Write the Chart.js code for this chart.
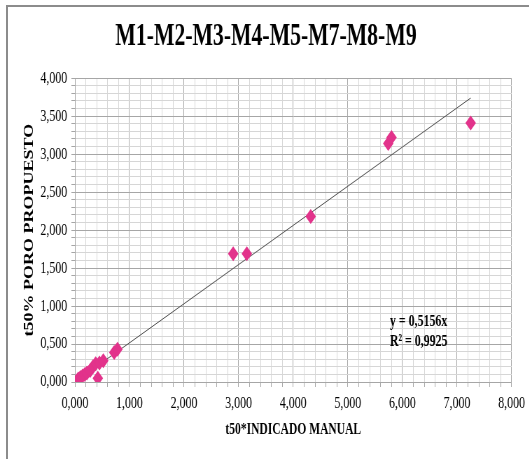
<!DOCTYPE html>
<html>
<head>
<meta charset="utf-8">
<script src="https://cdn.jsdelivr.net/npm/chart.js@4/dist/chart.umd.min.js"></script>
<style>
  html, body { margin: 0; padding: 0; background: #fff; }
  body { width: 529px; height: 459px; position: relative; overflow: hidden; }
  #frame { position: absolute; left: 6px; top: 5px; width: 560px; height: 500px;
           border-left: 2px solid #8c8c8c; border-top: 2px solid #8c8c8c; }
  /* the source image is squeezed horizontally, so the chart is too */
  #wrap { position: absolute; left: 0; top: 0; width: 756px; height: 459px;
          transform: scaleX(0.7); transform-origin: 0 0; }
</style>
</head>
<body>
<div id="frame"></div>
<div id="wrap"><canvas id="myChart"></canvas></div>
<script>
  // measured points (t50* indicado manual, t50% poro propuesto)
  const manualX = [0.03, 0.06, 0.10, 0.14, 0.18, 0.22, 0.28, 0.33, 0.38, 0.42, 0.45, 0.52, 0.72, 0.78, 2.90, 3.15, 4.32, 5.74, 5.80, 7.25]
  const poroY = [0.01, 0.04, 0.06, 0.08, 0.10, 0.12, 0.15, 0.20, 0.24, 0.05, 0.25, 0.28, 0.39, 0.43, 1.69, 1.69, 2.18, 3.14, 3.22, 3.41]

  const trendSlope = 0.5156
  const trendR2 = 0.9925
  const xTickLabels = [0, 1, 2, 3, 4, 5, 6, 7, 8]
  const yTickLabels = [0, 0.5, 1, 1.5, 2, 2.5, 3, 3.5, 4]

  const fmt = v => v.toFixed(3).replace('.', ',')
  const fmtComma = v => String(v).replace('.', ',')
  const isLabel = (v, list) => list.some(t => Math.abs(t - v) < 1e-6)

  const points = manualX.map((x, i) => ({ x: x, y: poroY[i] }))
  const trendEnd = Math.max(...manualX)
  const trendLine = [{ x: 0, y: 0 }, { x: trendEnd, y: trendSlope * trendEnd }]

  const serif = 'Liberation Serif'

  const equationLabel = {
    id: 'equationLabel',
    afterDatasetsDraw(chart) {
      const c = chart.ctx
      const xs = chart.scales.x
      const ys = chart.scales.y
      c.save()
      c.fillStyle = '#000'
      c.font = 'bold 17px "' + serif + '"'
      c.textBaseline = 'middle'
      c.textAlign = 'left'
      const px = xs.getPixelForValue(5.77)
      c.fillText('y = ' + fmtComma(trendSlope) + 'x', px, ys.getPixelForValue(0.80))
      c.fillText('R² = ' + fmtComma(trendR2), px, ys.getPixelForValue(0.53))
      c.restore()
    }
  }

  const ctx = document.getElementById('myChart')

  const myChart = new Chart(ctx, {
    type: 'scatter',
    data: {
      datasets: [{
        data: trendLine,
        showLine: true,
        borderColor: '#505050',
        borderWidth: 1,
        pointRadius: 0,
        order: 2
      }, {
        data: points,
        pointStyle: 'rectRot',
        pointRadius: 7.5,
        pointBackgroundColor: '#e2338b',
        pointBorderColor: '#e2338b',
        pointBorderWidth: 0,
        order: 1
      }]
    },
    options: {
      responsive: true,
      maintainAspectRatio: false,
      animation: false,
      layout: {
        padding: { left: 28, right: 24, top: 10, bottom: 15 }
      },
      plugins: {
        legend: { display: false },
        tooltip: { enabled: false },
        title: {
          display: true,
          text: 'M1-M2-M3-M4-M5-M7-M8-M9',
          color: '#000',
          font: { family: serif, size: 31, weight: 'bold' },
          padding: { top: 8, bottom: 23 }
        }
      },
      scales: {
        x: {
          type: 'linear',
          min: 0,
          max: 8,
          afterFit: s => { s.height = 62 },
          title: {
            display: true,
            text: 't50*INDICADO MANUAL',
            color: '#000',
            font: { family: serif, size: 16.5, weight: 'bold' },
            padding: { top: 4, bottom: 4 }
          },
          ticks: {
            stepSize: 0.2,
            autoSkip: false,
            maxRotation: 0,
            color: '#000',
            padding: 6,
            font: { family: serif, size: 17 },
            callback: v => isLabel(v, xTickLabels) ? fmt(v) : ''
          },
          grid: {
            color: c => isLabel(c.tick.value, xTickLabels) ? '#a6a6a6' : '#d6d6d6',
            tickLength: 5,
            tickColor: '#a6a6a6'
          },
          border: { color: '#a6a6a6' }
        },
        y: {
          type: 'linear',
          min: 0,
          max: 4,
          afterFit: s => { s.width = 79 },
          title: {
            display: true,
            text: 't50% PORO PROPUESTO',
            color: '#000',
            font: { family: serif, size: 18, weight: 'bold' },
            padding: { top: 4, bottom: 4 }
          },
          ticks: {
            stepSize: 0.1,
            autoSkip: false,
            color: '#000',
            padding: 6,
            font: { family: serif, size: 17 },
            callback: v => isLabel(v, yTickLabels) ? fmt(v) : ''
          },
          grid: {
            color: c => isLabel(c.tick.value, yTickLabels) ? '#a6a6a6' : '#d6d6d6',
            tickLength: 5,
            tickColor: '#a6a6a6'
          },
          border: { color: '#a6a6a6' }
        }
      }
    },
    plugins: [equationLabel]
  })
</script>
</body>
</html>
